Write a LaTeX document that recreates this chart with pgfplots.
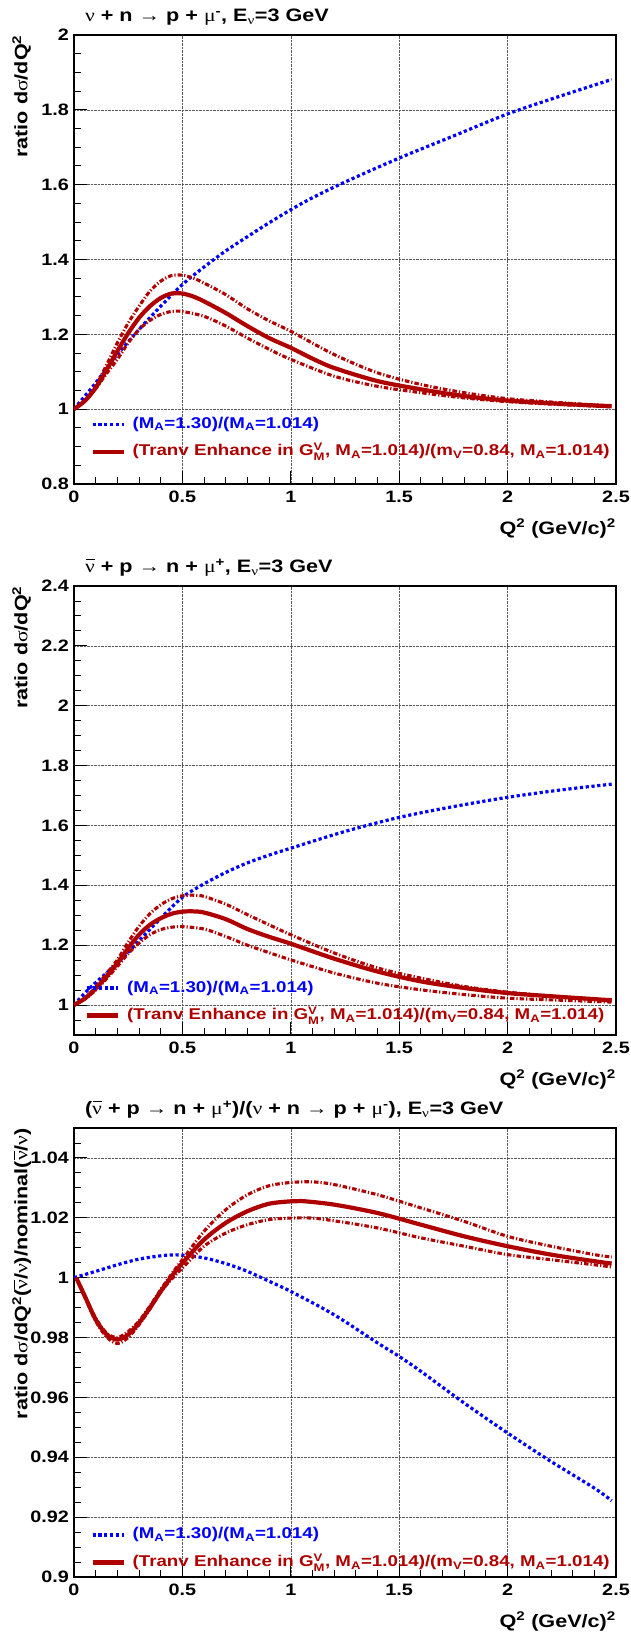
\documentclass[border=0pt]{standalone}
\usepackage{amsmath}
\usepackage{fontspec}
\setmainfont[FakeStretch=1.2]{Liberation Sans}
\newfontfamily\gr[FakeStretch=1.2]{Liberation Serif}
\usepackage{pgfplots}
\pgfplotsset{compat=1.18}
\definecolor{rred}{RGB}{175,0,0}
\definecolor{rblue}{RGB}{0,0,255}
\newcommand{\gnu}{{\gr\mdseries ν}}
\newcommand{\gmu}{{\gr\mdseries μ}}
\newcommand{\gsig}{{\gr\mdseries σ}}
\newcommand{\arr}{{\gr\mdseries →}}
\newcommand{\nubar}{\rlap{\hspace{0.04em}\rule[0.70em]{0.52em}{0.055em}}\gnu}
\newcommand{\fs}[1]{\fontsize{#1}{#1}\selectfont\bfseries}

\pgfplotsset{
  rootaxis/.style={
    scale only axis, width=542pt, height=449pt, anchor=south west,
    xmin=0, xmax=2.5,
    xtick={0,0.5,1,1.5,2,2.5}, xticklabels={0,0.5,1,1.5,2,2.5},
    minor xtick={0,0.1,...,2.5},
    tick pos=left, tick align=inside,
    major tick length=13pt, minor tick length=7pt,
    grid=major,
    major grid style={densely dotted, line width=0.6pt, black!65},
    axis line style={line width=1.1pt},
    every tick/.style={black, line width=0.9pt},
    xticklabel style={font=\fs{16.5}, inner sep=0pt, anchor=north, yshift=-7pt},
    yticklabel style={font=\fs{16.5}, inner sep=0pt, anchor=east, xshift=-5pt},
    title style={font=\fs{18}, at={(axis description cs:0.02,1)}, anchor=base west, yshift=7.5pt, inner sep=0pt},
    xlabel style={font=\fs{18}, at={(axis description cs:1,0)}, anchor=north east, yshift=-35pt, inner sep=0pt},
    ylabel style={font=\fs{18}, at={(axis description cs:-0.086,1)}, anchor=base east, inner sep=0pt},
    xlabel={Q\textsuperscript{2} (GeV/c)\textsuperscript{2}},
    legend cell align=left,
    legend image code/.code={\draw[#1] (0pt,0pt) -- (31pt,0pt);},
    legend style={draw=none, fill=none, font=\fs{15.6}, inner sep=0pt, row sep=10.5pt,
      nodes={inner sep=0pt, text height=12.5pt, text depth=4.5pt},
      /tikz/every odd column/.append style={column sep=7pt}},
  },
  pblue/.style={rblue, line width=3.2pt, dash pattern=on 3.2pt off 2.6pt, smooth},
  pred/.style={rred, line width=4.2pt, smooth},
  pdd/.style={rred, line width=3.1pt, dash pattern=on 4.5pt off 2pt on 1.2pt off 2pt, smooth},
}

\newcommand{\legblue}{\textcolor{rblue}{(M\textsubscript{A}=1.30)/(M\textsubscript{A}=1.014)}}
\newcommand{\legred}{\textcolor{rred}{(Tranv Enhance in G$^{\text{V}}_{\text{M}}$, M\textsubscript{A}=1.014)/(m\textsubscript{V}=0.84, M\textsubscript{A}=1.014)}}

\begin{document}
\begin{tikzpicture}
\path[use as bounding box] (0,0) rectangle (630pt,1635pt);

% ---------------- Panel 1 ----------------
\begin{axis}[rootaxis, at={(74pt,1151pt)},
  ymin=0.8, ymax=2.0,
  ytick={0.8,1.0,1.2,1.4,1.6,1.8,2.0}, yticklabels={0.8,1,1.2,1.4,1.6,1.8,2},
  minor ytick={0.8,0.85,...,2.0},
  title={\gnu{} + n \arr{} p + \gmu\textsuperscript{-}, E\textsubscript{\gnu}=3 GeV},
  ylabel={ratio d\gsig/dQ\textsuperscript{2}},
  legend style={at={(axis description cs:0.03,0.102)}, anchor=west}]
\addplot[pblue] coordinates {(0,1.0) (0.05,1.035) (0.1,1.07) (0.2,1.146) (0.3,1.213) (0.4,1.275) (0.5,1.333) (0.6,1.38) (0.7,1.423) (0.8,1.461) (0.9,1.498) (1.0,1.533) (1.1,1.565) (1.25,1.607) (1.5,1.671) (1.75,1.730) (2.0,1.789) (2.25,1.838) (2.48,1.881)};
\addlegendentry{\legblue}
\addplot[pred] coordinates {(0,1.0) (0.05,1.022) (0.1,1.057) (0.15,1.105) (0.2,1.155) (0.25,1.203) (0.3,1.244) (0.35,1.275) (0.4,1.297) (0.45,1.309) (0.5,1.309) (0.55,1.301) (0.6,1.288) (0.7,1.257) (0.8,1.222) (0.9,1.19) (1.0,1.164) (1.1,1.135) (1.2,1.11) (1.4,1.075) (1.6,1.053) (1.8,1.035) (2.0,1.023) (2.25,1.014) (2.48,1.008)};
\addlegendentry{\legred}
\addplot[pdd, forget plot] coordinates {(0,1.0) (0.05,1.022) (0.1,1.062) (0.15,1.118) (0.2,1.177) (0.25,1.23) (0.3,1.275) (0.35,1.315) (0.4,1.342) (0.45,1.357) (0.5,1.358) (0.55,1.35) (0.6,1.337) (0.7,1.306) (0.8,1.268) (0.9,1.236) (1.0,1.208) (1.2,1.146) (1.4,1.097) (1.6,1.066) (1.8,1.044) (2.0,1.028) (2.25,1.017) (2.48,1.008)};
\addplot[pdd, forget plot] coordinates {(0,1.0) (0.05,1.022) (0.1,1.055) (0.15,1.095) (0.2,1.133) (0.25,1.177) (0.3,1.213) (0.35,1.237) (0.4,1.253) (0.45,1.261) (0.5,1.261) (0.6,1.248) (0.7,1.222) (0.8,1.19) (0.9,1.16) (1.0,1.133) (1.2,1.088) (1.4,1.061) (1.6,1.044) (1.8,1.03) (2.0,1.02) (2.25,1.012) (2.48,1.006)};
\end{axis}

% ---------------- Panel 2 ----------------
\begin{axis}[rootaxis, at={(74pt,600pt)},
  ymin=0.9, ymax=2.4,
  ytick={1.0,1.2,1.4,1.6,1.8,2.0,2.2,2.4}, yticklabels={1,1.2,1.4,1.6,1.8,2,2.2,2.4},
  minor ytick={0.9,0.95,...,2.4},
  title={\nubar{} + p \arr{} n + \gmu\textsuperscript{+}, E\textsubscript{\gnu}=3 GeV},
  ylabel={ratio d\gsig/dQ\textsuperscript{2}},
  legend style={at={(axis description cs:0.02,0.074)}, anchor=west}]
\addplot[pblue] coordinates {(0,1.0) (0.05,1.04) (0.1,1.075) (0.2,1.14) (0.3,1.215) (0.4,1.29) (0.5,1.36) (0.6,1.405) (0.7,1.443) (0.8,1.475) (0.9,1.501) (1.0,1.524) (1.25,1.58) (1.5,1.627) (1.75,1.663) (2.0,1.694) (2.25,1.719) (2.48,1.738)};
\addlegendentry{\legblue}
\addplot[pred] coordinates {(0,1.0) (0.05,1.022) (0.1,1.055) (0.15,1.095) (0.2,1.14) (0.25,1.19) (0.3,1.235) (0.35,1.268) (0.4,1.29) (0.45,1.305) (0.5,1.312) (0.55,1.313) (0.6,1.309) (0.7,1.287) (0.8,1.254) (0.9,1.228) (1.0,1.205) (1.2,1.155) (1.4,1.112) (1.6,1.079) (1.8,1.057) (2.0,1.04) (2.25,1.027) (2.48,1.016)};
\addlegendentry{\legred}
\addplot[pdd, forget plot] coordinates {(0,1.0) (0.05,1.022) (0.1,1.06) (0.15,1.105) (0.2,1.151) (0.25,1.21) (0.3,1.263) (0.35,1.305) (0.4,1.335) (0.45,1.355) (0.5,1.365) (0.55,1.367) (0.6,1.363) (0.7,1.337) (0.8,1.302) (0.9,1.268) (1.0,1.235) (1.2,1.174) (1.4,1.124) (1.6,1.09) (1.8,1.062) (2.0,1.043) (2.25,1.027) (2.48,1.016)};
\addplot[pdd, forget plot] coordinates {(0,1.0) (0.05,1.02) (0.1,1.05) (0.15,1.088) (0.2,1.129) (0.25,1.172) (0.3,1.207) (0.35,1.235) (0.4,1.252) (0.45,1.26) (0.5,1.262) (0.6,1.254) (0.7,1.229) (0.8,1.2) (0.9,1.175) (1.0,1.151) (1.2,1.107) (1.4,1.073) (1.6,1.051) (1.8,1.035) (2.0,1.023) (2.25,1.016) (2.48,1.01)};
\end{axis}

% ---------------- Panel 3 ----------------
\begin{axis}[rootaxis, at={(74pt,58pt)},
  ymin=0.9, ymax=1.05,
  ytick={0.9,0.92,0.94,0.96,0.98,1.0,1.02,1.04}, yticklabels={0.9,0.92,0.94,0.96,0.98,1,1.02,1.04},
  minor ytick={0.9,0.905,...,1.05},
  title={(\nubar{} + p \arr{} n + \gmu\textsuperscript{+})/(\gnu{} + n \arr{} p + \gmu\textsuperscript{-}), E\textsubscript{\gnu}=3 GeV},
  ylabel={ratio d\gsig/dQ\textsuperscript{2}(\nubar/\gnu)/nominal(\nubar/\gnu)},
  legend style={at={(axis description cs:0.03,0.063)}, anchor=west}]
\addplot[pblue] coordinates {(0,1.0) (0.1,1.0021) (0.2,1.0043) (0.3,1.0062) (0.4,1.0073) (0.45,1.0076) (0.5,1.0075) (0.6,1.0066) (0.7,1.0047) (0.8,1.0021) (0.9,0.9988) (1.0,0.9954) (1.2,0.9876) (1.4,0.9782) (1.5,0.9737) (1.6,0.9687) (1.8,0.9581) (2.0,0.9481) (2.2,0.9386) (2.4,0.9297) (2.48,0.9255)};
\addlegendentry{\legblue}
\addplot[pred] coordinates {(0.01,1.0) (0.05,0.9938) (0.1,0.986) (0.15,0.981) (0.2,0.9793) (0.25,0.981) (0.3,0.9849) (0.35,0.9899) (0.4,0.9954) (0.45,1.0004) (0.5,1.0049) (0.6,1.0127) (0.7,1.0183) (0.8,1.0222) (0.9,1.0247) (1.0,1.0255) (1.05,1.0256) (1.2,1.0244) (1.4,1.0216) (1.6,1.0177) (1.8,1.0138) (2.0,1.0105) (2.2,1.0077) (2.4,1.0055) (2.48,1.0047)};
\addlegendentry{\legred}
\addplot[pdd, forget plot] coordinates {(0.01,1.0) (0.05,0.994) (0.1,0.9865) (0.15,0.9815) (0.2,0.98) (0.25,0.982) (0.3,0.9855) (0.35,0.9905) (0.4,0.996) (0.45,1.0012) (0.5,1.006) (0.6,1.0155) (0.7,1.0227) (0.8,1.0277) (0.9,1.0307) (1.0,1.0318) (1.1,1.032) (1.2,1.0311) (1.4,1.0277) (1.6,1.0233) (1.8,1.0188) (2.0,1.0138) (2.2,1.0105) (2.4,1.0077) (2.48,1.0069)};
\addplot[pdd, forget plot] coordinates {(0.01,1.0) (0.05,0.9935) (0.1,0.9855) (0.15,0.9802) (0.2,0.978) (0.25,0.98) (0.3,0.9843) (0.35,0.9895) (0.4,0.9952) (0.45,0.9995) (0.5,1.0032) (0.6,1.0105) (0.7,1.0149) (0.8,1.0177) (0.9,1.0194) (1.0,1.0199) (1.1,1.0199) (1.2,1.019) (1.4,1.0166) (1.6,1.0133) (1.8,1.0105) (2.0,1.0077) (2.2,1.006) (2.4,1.0043) (2.48,1.0036)};
\end{axis}
\end{tikzpicture}
\end{document}
